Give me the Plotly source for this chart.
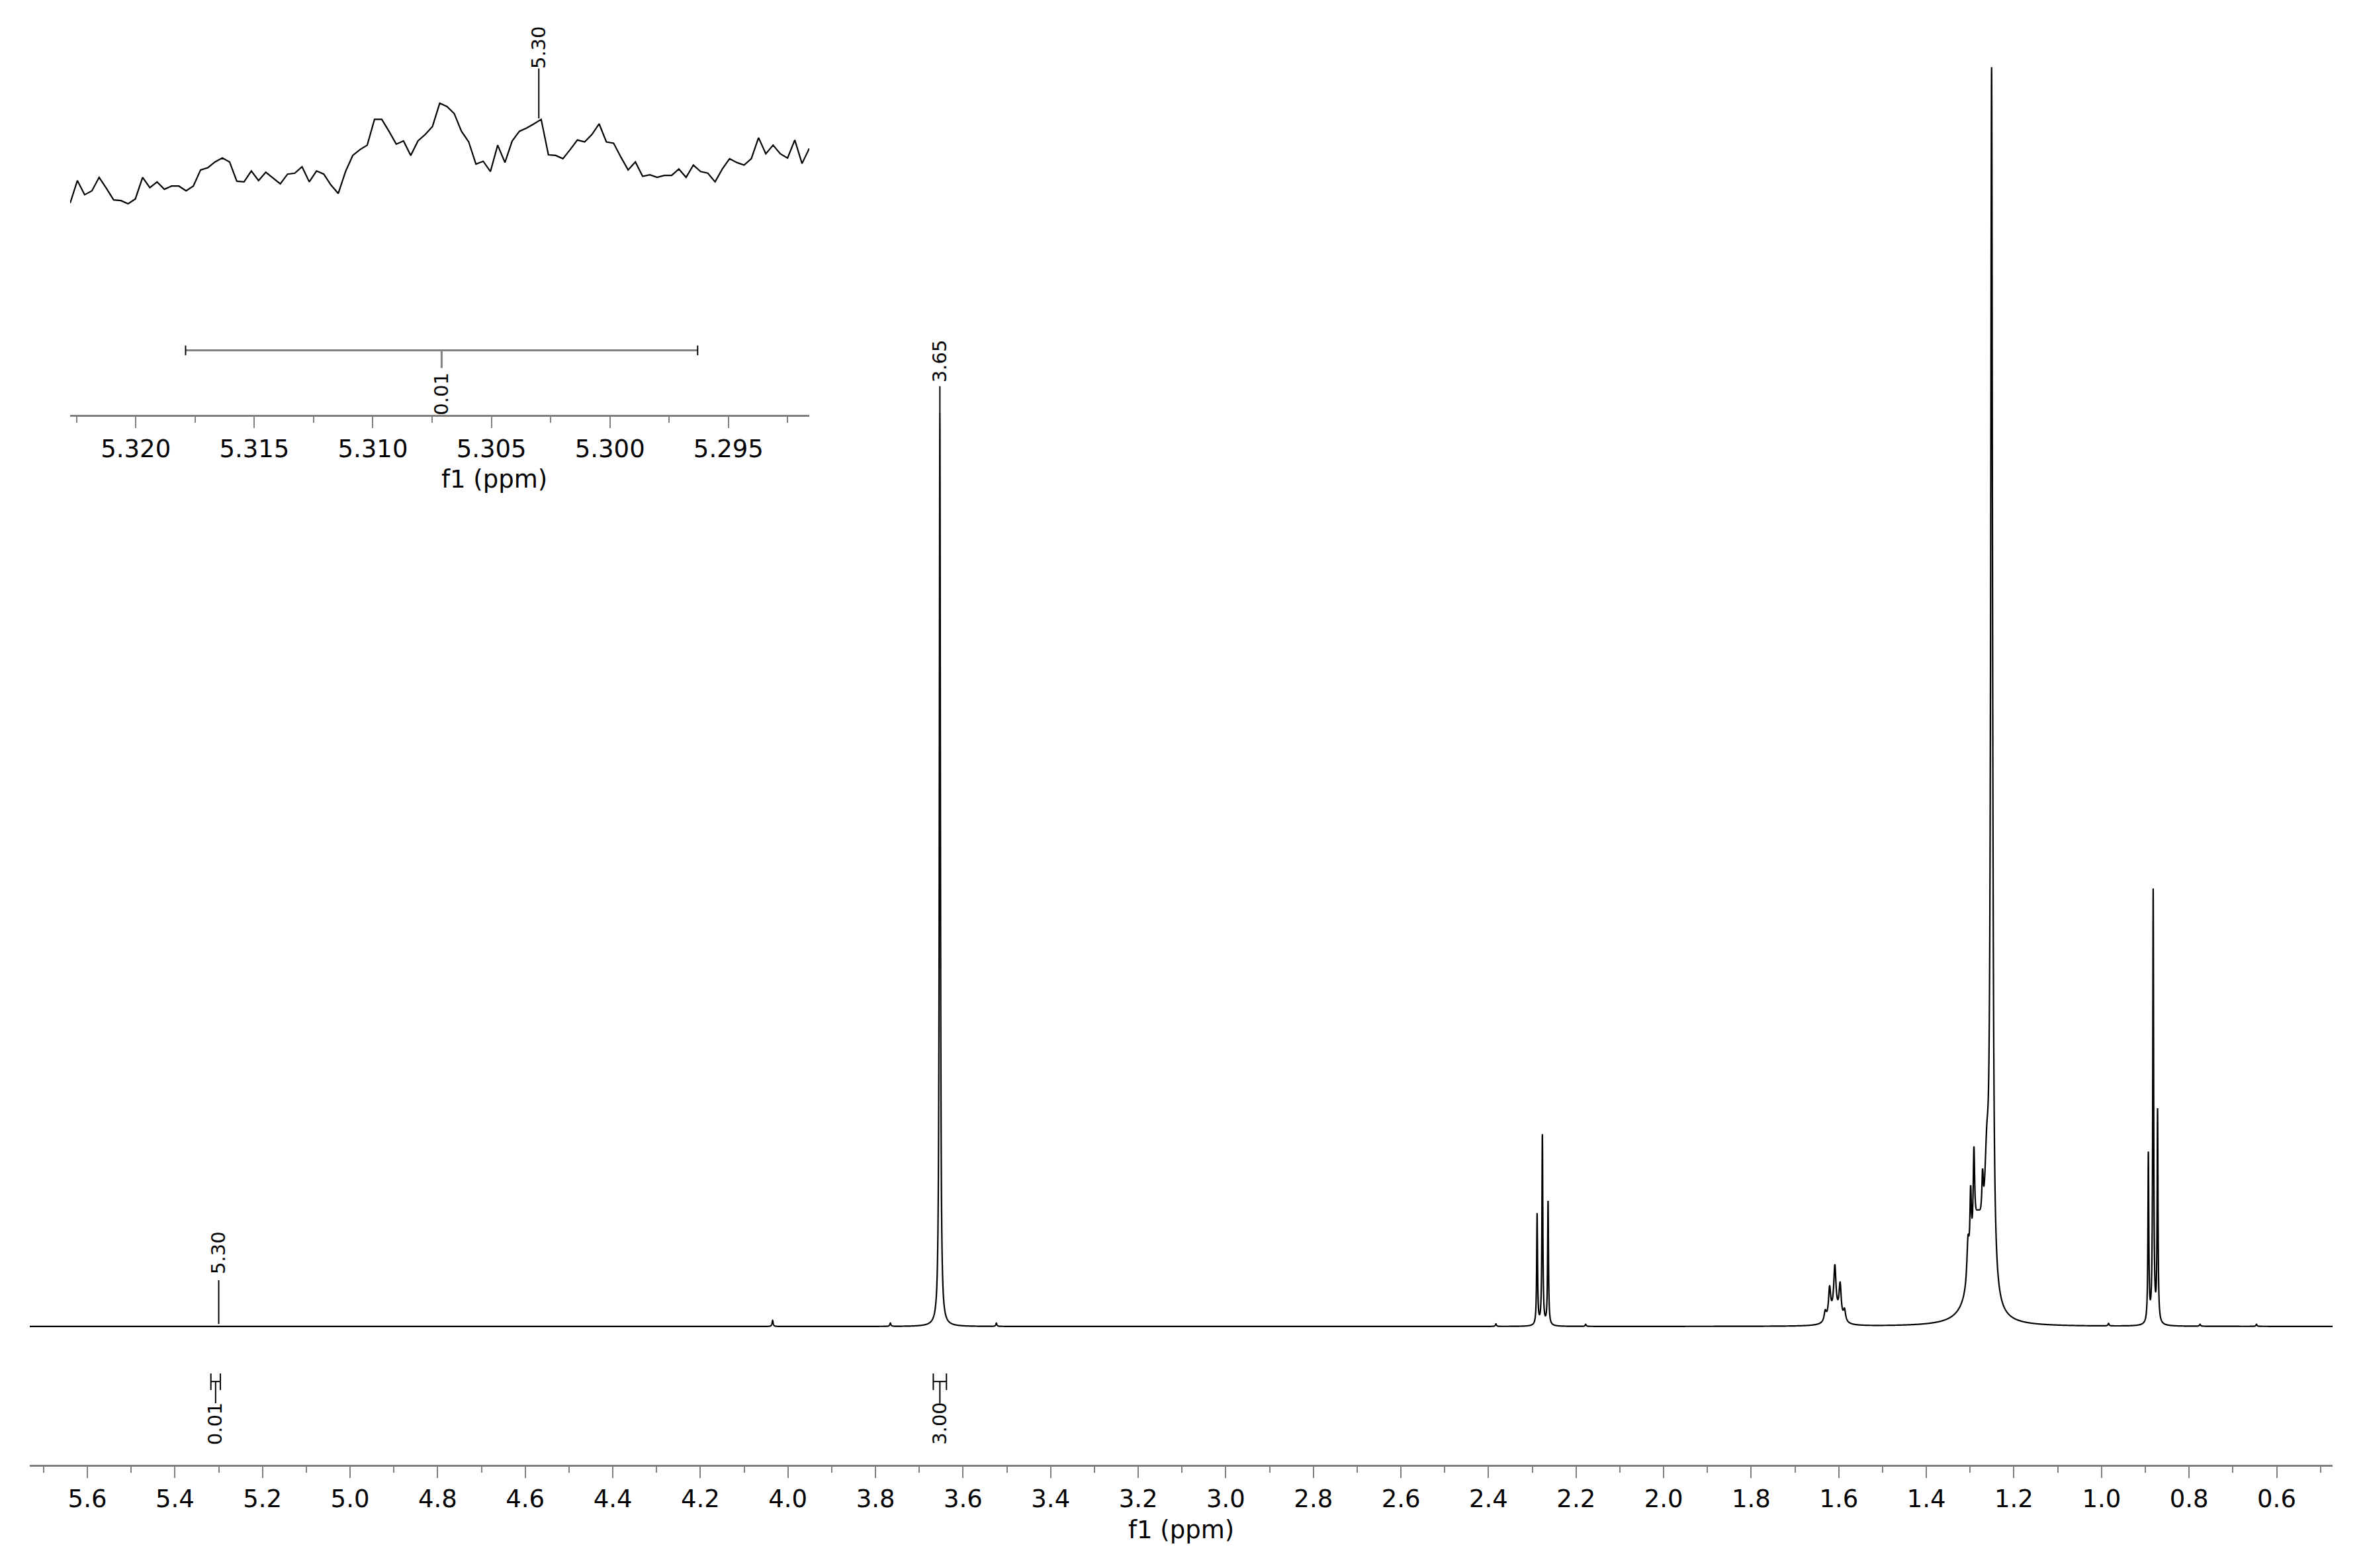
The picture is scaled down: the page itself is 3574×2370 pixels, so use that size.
import numpy as np
import plotly.graph_objects as go

# 1H NMR peak table: shift (ppm), height (tallest = 1), half width (ppm)
peak_ppm = [4.035, 3.766, 3.653, 3.524, 2.383, 2.289, 2.277, 2.264, 2.178,
            1.631, 1.621, 1.609, 1.597, 1.587, 1.609,
            1.305, 1.2989, 1.2914, 1.2717, 1.283, 1.262, 1.251,
            0.984, 0.893, 0.882, 0.872, 0.775, 0.646]
peak_height = [0.0048, 0.0026, 0.731, 0.0026, 0.002, 0.089, 0.152, 0.099, 0.0016,
               0.008, 0.024, 0.036, 0.027, 0.009, 0.010,
               0.032, 0.055, 0.070, 0.035, 0.075, 0.080, 0.970,
               0.002, 0.135, 0.346, 0.169, 0.0016, 0.0016]
peak_hwhm = [0.0015, 0.0015, 0.0015, 0.0015, 0.0015, 0.0012, 0.0012, 0.0012, 0.0015,
             0.003, 0.003, 0.003, 0.003, 0.003, 0.012,
             0.003, 0.002, 0.002, 0.002, 0.018, 0.006, 0.0025,
             0.0015, 0.0012, 0.0012, 0.0012, 0.0015, 0.0015]

# zoomed region 5.3228 - 5.2916 ppm, trace heights read point by point (arbitrary units)
inset_start, inset_end = 5.32277, 5.29159
inset_intensity = [657, 727, 683, 695, 737, 703, 667, 665, 655, 670,
                   737, 705, 723, 700, 710, 710, 695, 710, 760, 767,
                   785, 797, 785, 725, 723, 757, 727, 753, 735, 717,
                   747, 750, 770, 723, 757, 747, 713, 687, 755, 805,
                   823, 837, 917, 917, 880, 840, 850, 805, 850, 870,
                   895, 967, 957, 935, 880, 847, 778, 787, 755, 837,
                   783, 850, 880, 890, 903, 917, 807, 805, 795, 823,
                   853, 847, 870, 903, 847, 843, 800, 760, 785, 740,
                   745, 737, 743, 743, 763, 737, 775, 755, 750, 723,
                   763, 795, 783, 775, 795, 860, 810, 837, 810, 797,
                   853, 780, 827]

# peak picking and integration labels
pick_main = [5.30, 3.65]
pick_inset = 5.303
integrals = [(5.3179, 5.2963, "0.01"), (3.668, 3.638, "3.00")]

AXIS_GREY = "#808080"
FONT = "DejaVu Sans"

ppm = np.arange(0.47, 5.735, 0.0002)
spec = np.zeros_like(ppm)
for c, h, w in zip(peak_ppm, peak_height, peak_hwhm):
    spec += h / (1.0 + ((ppm - c) / w) ** 2)

inset_x = np.linspace(inset_start, inset_end, len(inset_intensity))

fig = go.Figure()
fig.add_trace(go.Scatter(x=ppm, y=spec, mode="lines",
                         line=dict(color="black", width=2.2, simplify=False),
                         xaxis="x", yaxis="y", hoverinfo="skip"))
fig.add_trace(go.Scatter(x=inset_x, y=inset_intensity, mode="lines",
                         line=dict(color="black", width=2.2, simplify=False),
                         xaxis="x2", yaxis="y2", hoverinfo="skip"))

shapes = []
annotations = []
lbl_font = dict(family=FONT, size=29, color="black")

# main peak labels
shapes.append(dict(type="line", xref="x", yref="y", x0=pick_main[0], x1=pick_main[0], y0=0.002, y1=0.037,
                   line=dict(color="black", width=2)))
annotations.append(dict(x=pick_main[0], y=0.059, xref="x", yref="y", text=f"{pick_main[0]:.2f}",
                        textangle=-90, showarrow=False, font=lbl_font))
top_365 = float(spec[np.argmin(np.abs(ppm - 3.653))])
shapes.append(dict(type="line", xref="x", yref="y", x0=3.653, x1=3.653, y0=top_365, y1=0.752,
                   line=dict(color="black", width=2)))
annotations.append(dict(x=3.653, y=0.772, xref="x", yref="y", text=f"{pick_main[1]:.2f}",
                        textangle=-90, showarrow=False, font=lbl_font))

# main integrals
for a, b, val in integrals:
    mid = (a + b) / 2
    shapes.append(dict(type="line", xref="x", yref="y", x0=a, x1=b, y0=-0.044, y1=-0.044,
                       line=dict(color="black", width=2)))
    for e in (a, b):
        shapes.append(dict(type="line", xref="x", yref="y", x0=e, x1=e, y0=-0.0376, y1=-0.0508,
                           line=dict(color="black", width=2)))
    shapes.append(dict(type="line", xref="x", yref="y", x0=mid, x1=mid, y0=-0.044, y1=-0.0614,
                       line=dict(color="black", width=2)))
    annotations.append(dict(x=mid, y=-0.0775, xref="x", yref="y", text=val, textangle=-90,
                            showarrow=False, font=lbl_font))

# inset peak label and integral
shapes.append(dict(type="line", xref="x2", yref="y2", x0=pick_inset, x1=pick_inset, y0=920, y1=1075,
                   line=dict(color="black", width=2)))
annotations.append(dict(x=pick_inset, y=1140, xref="x2", yref="y2", text=f"{pick_inset:.2f}",
                        textangle=-90, showarrow=False, font=lbl_font))
a, b, val = integrals[0]
mid = (a + b) / 2
shapes.append(dict(type="line", xref="x2", yref="y2", x0=a, x1=b, y0=200, y1=200,
                   line=dict(color=AXIS_GREY, width=3)))
for e in (a, b):
    shapes.append(dict(type="line", xref="x2", yref="y2", x0=e, x1=e, y0=185, y1=215,
                       line=dict(color="black", width=2)))
shapes.append(dict(type="line", xref="x2", yref="y2", x0=mid, x1=mid, y0=200, y1=145,
                   line=dict(color=AXIS_GREY, width=3)))
annotations.append(dict(x=mid, y=65, xref="x2", yref="y2", text=val, textangle=-90,
                        showarrow=False, font=lbl_font))

# axis titles
title_font = dict(family=FONT, size=37, color="black")
annotations.append(dict(x=0.4972, y=1 - 2304 / 2370, xref="paper", yref="paper", text="f1 (ppm)",
                        showarrow=False, font=title_font, yanchor="middle"))
annotations.append(dict(x=0.1837, y=1 - 716 / 2370, xref="paper", yref="paper", text="f1 (ppm)",
                        showarrow=False, font=title_font, yanchor="middle"))

axis_style = dict(showline=True, linecolor=AXIS_GREY, linewidth=3, ticks="outside", ticklen=17,
                  tickwidth=2, tickcolor=AXIS_GREY, showgrid=False, zeroline=False,
                  tickfont=dict(family=FONT, size=37, color="black"))

fig.update_layout(
    width=3574, height=2370,
    margin=dict(l=0, r=0, t=0, b=0),
    paper_bgcolor="white", plot_bgcolor="white",
    showlegend=False,
    shapes=shapes, annotations=annotations,
    xaxis=dict(domain=[37 / 3574, 3517 / 3574], range=[5.7315, 0.4723], anchor="y",
               tick0=0, dtick=0.2, tickformat=".1f",
               minor=dict(dtick=0.1, ticklen=9, tickwidth=2, tickcolor=AXIS_GREY, ticks="outside", showgrid=False),
               **axis_style),
    yaxis=dict(domain=[1 - 2206 / 2370, 1], range=[-0.1106, 1.0566], visible=False, anchor="x"),
    xaxis2=dict(domain=[98 / 3574, 1215 / 3574], range=[inset_start, inset_end], anchor="y2",
                tick0=0, dtick=0.005, tickformat=".3f",
                minor=dict(dtick=0.0025, ticklen=9, tickwidth=2, tickcolor=AXIS_GREY, ticks="outside", showgrid=False),
                **axis_style),
    yaxis2=dict(domain=[1 - 619 / 2370, 1], range=[0, 1271], visible=False, anchor="x2"),
)

fig.write_html("out.html")
